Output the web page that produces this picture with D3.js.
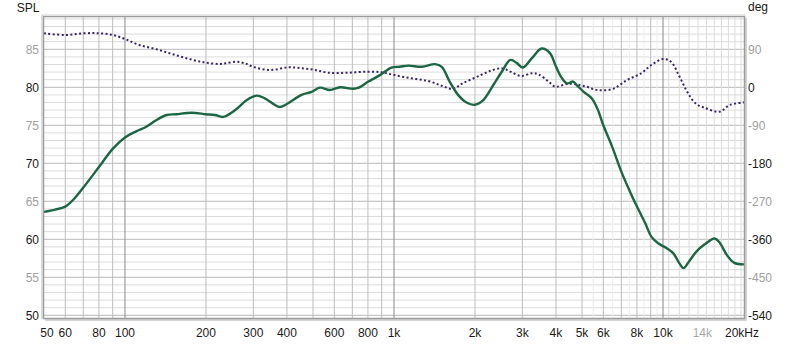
<!DOCTYPE html>
<html>
<head>
<meta charset="utf-8">
<title>SPL</title>
<style>
body { margin: 0; background: #fff; }
svg text { font-family: "Liberation Sans", Arial, sans-serif; font-size: 12px; }
</style>
</head>
<body>
<script src="https://cdn.jsdelivr.net/npm/d3@7"></script>
<script>
// SPL curve (Hz, dB)
var splFreq = [50,55,60,65,70,80,90,100,110,120,131,143,155,177,200,216,232,257,283,309,331,376,404,453,494,530,578,630,706,740,803,886,978,1050,1130,1270,1420,1505,1610,1730,1860,2000,2146,2340,2515,2710,2870,3015,3250,3540,3800,3980,4210,4400,4630,4775,5070,5430,5700,6000,6500,7000,7530,8000,8590,9050,9570,10350,10930,11520,11920,12470,13330,14250,15550,16200,17300,18400,20000];
var splDb = [63.6,63.9,64.3,65.4,66.8,69.5,71.9,73.4,74.2,74.8,75.7,76.35,76.45,76.65,76.45,76.35,76.1,77.0,78.3,78.9,78.55,77.4,77.9,79.0,79.4,79.95,79.65,80.0,79.8,79.95,80.75,81.6,82.6,82.7,82.85,82.7,83.05,82.7,80.75,79.0,78.0,77.7,78.3,80.3,82.05,83.6,83.15,82.6,83.8,85.1,84.5,82.9,81.2,80.5,80.75,80.3,79.4,78.55,77.2,75.0,72.0,68.9,66.3,64.3,62.1,60.35,59.5,58.8,58.15,56.8,56.2,57.05,58.4,59.3,60.1,59.6,57.9,56.9,56.7];

// phase curve (Hz, deg)
var phFreq = [50,60,70,80,90,100,113,131,151,175,200,225,237,260,279,303,349,404,453,509,570,676,803,900,1000,1160,1340,1505,1650,1800,2040,2290,2515,2710,2960,3250,3440,3760,3980,4400,4750,5200,5700,6500,7350,8300,9050,10000,10700,11520,12300,13200,14250,16200,17700,20000];
var phDeg = [127.9,123.9,127.9,127.9,123.9,114.4,100.2,90,78.1,66.3,58.3,55.2,56.8,60.6,56.8,47.4,41,47.4,45,41,34.6,34.6,37,35.5,29,21.3,14.9,3.8,-4,9.5,25.1,39.3,45,37,26.8,33.2,30.8,13.3,1.4,8,7,1.4,-6.4,-4,17.3,33.2,52.8,67,60.6,25.1,-10.4,-37.9,-48.3,-57.8,-41.9,-35.5];

// axis labels
var xTicks = [50,60,80,100,200,300,400,600,800,1000,2000,3000,4000,5000,6000,8000,10000,14000,20000];
var xLabels = ["50","60","80","100","200","300","400","600","800","1k","2k","3k","4k","5k","6k","8k","10k","14k","20kHz"];
var splTicks = [50,55,60,65,70,75,80,85];
var degTicks = [-540,-450,-360,-270,-180,-90,0,90];

var W = 800, H = 344;
var L = 44, R = 744, T = 17, B = 318;

var x = d3.scaleLog().domain([50, 20000]).range([L, R]);
var y = d3.scaleLinear().domain([49.64, 89.25]).range([B, T]);
var yDeg = d3.scaleLinear().domain([(49.64-80)*18, (89.25-80)*18]).range([B, T]);

var svg = d3.select("body").append("svg")
    .attr("width", W).attr("height", H);

svg.append("rect").attr("width", W).attr("height", H).attr("fill", "#fff");

// shadow
svg.append("rect")
    .attr("x", L + 1).attr("y", T + 1)
    .attr("width", R - L + 2).attr("height", B - T + 2)
    .attr("fill", "#d4d4d4");
svg.append("rect")
    .attr("x", L).attr("y", T)
    .attr("width", R - L).attr("height", B - T)
    .attr("fill", "#fff");

var grid = svg.append("g");

// horizontal grid, 1 dB
for (var v = 50; v <= 89; v++) {
    grid.append("line")
        .attr("x1", L).attr("x2", R)
        .attr("y1", y(v)).attr("y2", y(v))
        .attr("stroke", v % 5 == 0 ? "#b8b8b8" : "#dcdcdc")
        .attr("stroke-width", 1);
}

// vertical grid
var fine = [];
for (var f = 5500; f < 20000; f += 1000) fine.push(f);
fine.forEach(function(f){
    grid.append("line")
        .attr("x1", x(f)).attr("x2", x(f))
        .attr("y1", T).attr("y2", B)
        .attr("stroke", f > 10000 ? "#dcdcdc" : "#ececec");
});
[10, 100, 1000, 10000].forEach(function(d){
    for (var m = 1; m <= 9; m++) {
        var f = m * d;
        if (f <= 50 || f >= 20000) continue;
        grid.append("line")
            .attr("x1", x(f)).attr("x2", x(f))
            .attr("y1", T).attr("y2", B)
            .attr("stroke", m == 1 ? "#8a8a8a" : (f > 10000 ? "#d0d0d0" : "#bdbdbd"))
            .attr("stroke-width", 1);
    }
});

// clip
svg.append("clipPath").attr("id", "clip")
    .append("rect").attr("x", L).attr("y", T).attr("width", R - L).attr("height", B - T);

var plot = svg.append("g").attr("clip-path", "url(#clip)");

var phLine = d3.line()
    .x(function(d){ return x(d[0]); })
    .y(function(d){ return yDeg(d[1]); })
    .curve(d3.curveCatmullRom.alpha(0.5));
plot.append("path")
    .datum(d3.zip(phFreq, phDeg))
    .attr("d", phLine)
    .attr("fill", "none")
    .attr("stroke", "#3a2461")
    .attr("stroke-width", 2)
    .attr("stroke-dasharray", "2,2.4");

var splLine = d3.line()
    .x(function(d){ return x(d[0]); })
    .y(function(d){ return y(d[1]); })
    .curve(d3.curveCatmullRom.alpha(0.5));
plot.append("path")
    .datum(d3.zip(splFreq, splDb))
    .attr("d", splLine)
    .attr("fill", "none")
    .attr("stroke", "#1c6644")
    .attr("stroke-width", 2.4);

// frame
svg.append("rect")
    .attr("x", L - 0.5).attr("y", T - 0.5)
    .attr("width", R - L + 1).attr("height", B - T + 1)
    .attr("fill", "none")
    .attr("stroke", "#9c9c9c")
    .attr("stroke-width", 1.5);
svg.append("line")
    .attr("x1", L - 2).attr("x2", R + 1).attr("y1", T - 2).attr("y2", T - 2)
    .attr("stroke", "#e0e0e0").attr("stroke-width", 1.5);
svg.append("line")
    .attr("x1", L - 2).attr("x2", L - 2).attr("y1", T - 2).attr("y2", B + 1)
    .attr("stroke", "#d0d0d0").attr("stroke-width", 1.5);

// x labels
svg.append("g").selectAll("text")
    .data(xTicks)
    .enter().append("text")
    .attr("x", function(d){ return Math.min(Math.max(x(d), 47), 742); })
    .attr("y", 337)
    .attr("text-anchor", "middle")
    .attr("fill", function(d){ return d == 14000 ? "#a8a8a8" : "#1a1a1a"; })
    .text(function(d, i){ return xLabels[i]; });

// left labels
svg.append("g").selectAll("text")
    .data(splTicks)
    .enter().append("text")
    .attr("x", 39)
    .attr("y", function(d){ return y(d) + 4.3; })
    .attr("text-anchor", "end")
    .attr("fill", function(d){ return d % 10 == 0 ? "#1a1a1a" : "#a0a0a0"; })
    .text(function(d){ return d; });

// right labels
svg.append("g").selectAll("text")
    .data(degTicks)
    .enter().append("text")
    .attr("x", 748)
    .attr("y", function(d){ return yDeg(d) + 4.3; })
    .attr("text-anchor", "start")
    .attr("fill", function(d){ return d % 180 == 0 ? "#1a1a1a" : "#a0a0a0"; })
    .text(function(d){ return d; });

svg.append("text").attr("x", 39.5).attr("y", 12).attr("text-anchor", "end")
    .attr("fill", "#1a1a1a").text("SPL");
svg.append("text").attr("x", 748).attr("y", 11)
    .attr("fill", "#1a1a1a").text("deg");
</script>
</body>
</html>
